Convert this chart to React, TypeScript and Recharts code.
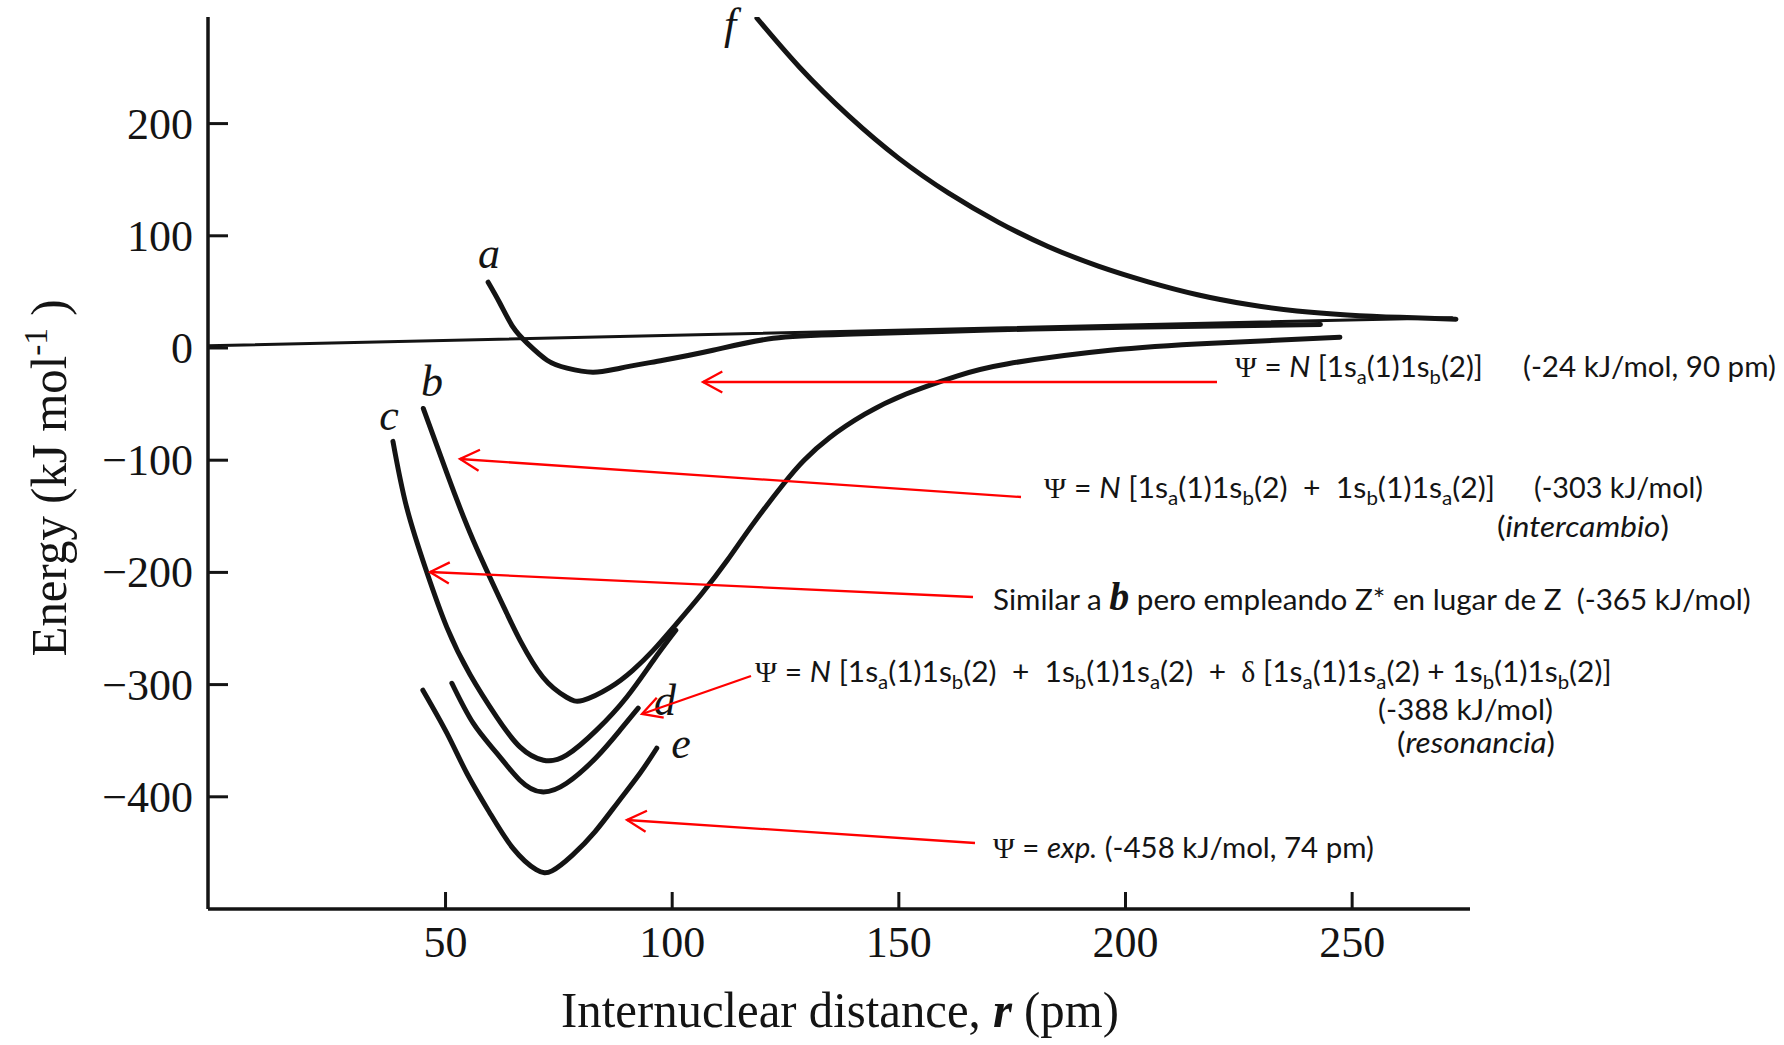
import React, { useLayoutEffect, useRef, useState } from "react";
import { LineChart, Line, XAxis, YAxis } from "recharts";

const INK = "#141414";
const RED = "#ff0000";
const SERIF = "'Liberation Serif', 'DejaVu Serif', serif";
const SANS = "Lato, 'Open Sans', 'Noto Sans', sans-serif";

const R_TICKS = [50, 100, 150, 200, 250];
const E_TICKS = [-400, -300, -200, -100, 0, 100, 200];

// [r (pm), E (kJ/mol)]
const baseline: [number, number][] = [[-2.4, 2], [272, 27]];
const curveA: [number, number][] = [
  [59.4, 58.6], [62.0, 39.9], [64.9, 18.5], [68.0, 4.3], [72.4, -10.9], [76.8, -18.0],
  [82.5, -21.6], [88.5, -18.0], [98.0, -10.9], [109.0, -2.0], [122.3, 8.7], [140, 12.5],
  [170, 16], [200, 18.5], [243, 21],
];
const curveB: [number, number][] = [
  [45.1, -53.9], [50.3, -111.6], [56.1, -171.3], [63.5, -236.4], [66.5, -261], [71.5, -293.5],
  [76.7, -311.3], [80.3, -314], [86.3, -302.5], [91.3, -287.3], [95.8, -269.5], [100.9, -246],
  [106.6, -218.6], [112.2, -189], [117.8, -157], [124.6, -121], [129.1, -100],
  [134.7, -80], [142.5, -59], [151.6, -41], [162.8, -25], [174.1, -14],
  [196.6, -2.0], [219.1, 4.3], [247.3, 9.6],
];
const curveC: [number, number][] = [
  [38.4, -83.2], [41.4, -141.6], [45.8, -199], [50.3, -249], [55.4, -291], [61.3, -329],
  [66.4, -355.5], [71.6, -367.4], [76.7, -362.9], [83.3, -340.6], [90.0, -311], [95.8, -278.7],
  [100.8, -251.6],
];
const curveD: [number, number][] = [
  [51.4, -298.8], [56.1, -334.4], [61.3, -361.1], [66.4, -385.2], [71.2, -395.6],
  [76.7, -387.9], [83.3, -364.7], [88.5, -340.6], [92.5, -321],
];
const curveE: [number, number][] = [
  [45.0, -305], [50.3, -343.3], [54.7, -379], [59.8, -414.6], [64.9, -446], [70.0, -465],
  [73.5, -466], [78.0, -452], [83.0, -431], [88.0, -405], [92.9, -379], [96.6, -356.7],
];
const curveF: [number, number][] = [
  [118.7, 293.9], [128.1, 250.2], [139.0, 206.6], [150.0, 169], [161.0, 138.0],
  [172.0, 112], [182.9, 90.5], [194.0, 73], [205.0, 59], [215.9, 47.5], [226.8, 39],
  [237.8, 33], [248.9, 29.5], [260.6, 27.3], [272.9, 25.7],
];

const pts = (a: [number, number][]) => a.map(([r, E]) => ({ r, E }));

const fmt = (v: number) => (v < 0 ? "\u2212" + Math.abs(v) : String(v));

type Part = string | [string, string];

function renderParts(parts: Part[], fs: number) {
  let shifted = 0;
  return parts.map((p, i) => {
    const [txt, kind] = typeof p === "string" ? [p, ""] : p;
    let target = 0;
    if (kind === "s") target = fs * 0.25;
    if (kind === "sup") target = -fs * 0.38;
    const dy = target - shifted;
    shifted = target;
    const props: any = {};
    if (kind === "s" || kind === "sup") props.fontSize = fs * 0.68;
    if (kind === "i") props.fontStyle = "italic";
    if (kind === "g") props.fontFamily = SERIF;
    if (kind === "bb") {
      props.fontFamily = SERIF;
      props.fontWeight = "bold";
      props.fontStyle = "italic";
      props.fontSize = fs * 1.35;
    }
    if (kind === "bi") {
      props.fontWeight = "bold";
      props.fontStyle = "italic";
    }
    return (
      <tspan key={i} dy={dy || undefined} {...props}>
        {txt}
      </tspan>
    );
  });
}

// text squeezed/stretched horizontally so it spans the same width as in the scan
function FitText({ x, y, width, parts, fs, family, anchor = "start", rotate = 0 }: any) {
  const ref = useRef<SVGTextElement>(null);
  const [k, setK] = useState(1);
  useLayoutEffect(() => {
    const el = ref.current;
    if (!el) return;
    const w = el.getBBox().width;
    if (w > 0) setK(width / w);
  }, [width]);
  return (
    <text
      ref={ref}
      transform={`translate(${x} ${y}) rotate(${rotate}) scale(${k} 1)`}
      textAnchor={anchor}
      fontFamily={family}
      fontSize={fs}
      fill={INK}
      xmlSpace="preserve"
      style={{ whiteSpace: "pre" }}
    >
      {renderParts(parts, fs)}
    </text>
  );
}

function Arrow({ from, to }: { from: [number, number]; to: [number, number] }) {
  const [x1, y1] = from;
  const [x2, y2] = to;
  const ang = Math.atan2(y1 - y2, x1 - x2);
  const L = 22;
  const h = 0.5;
  const a1 = `${x2 + L * Math.cos(ang + h)},${y2 + L * Math.sin(ang + h)}`;
  const a2 = `${x2 + L * Math.cos(ang - h)},${y2 + L * Math.sin(ang - h)}`;
  return (
    <g stroke={RED} strokeWidth={2.3} fill="none">
      <line x1={x1} y1={y1} x2={x2} y2={y2} />
      <polyline points={`${a1} ${x2},${y2} ${a2}`} />
    </g>
  );
}

const YTick = (props: any) => {
  const { x, y, payload } = props;
  return (
    <g>
      <line x1={x} x2={x + 20} y1={y} y2={y} stroke={INK} strokeWidth={3} />
      <text x={x - 15} y={y + 15} textAnchor="end" fontFamily={SERIF} fontSize={44} fill={INK}>
        {fmt(payload.value)}
      </text>
    </g>
  );
};

const XTick = (props: any) => {
  const { x, y, payload } = props;
  return (
    <g>
      <line x1={x} x2={x} y1={y} y2={y - 17} stroke={INK} strokeWidth={3} />
      <text x={x} y={y + 48} textAnchor="middle" fontFamily={SERIF} fontSize={44} fill={INK}>
        {fmt(payload.value)}
      </text>
    </g>
  );
};

const curveLabel = (t: string, x: number, y: number) => (
  <text x={x} y={y} textAnchor="middle" fontFamily={SERIF} fontStyle="italic" fontSize={44} fill={INK}>
    {t}
  </text>
);

const a = ["a", "s"] as [string, string];
const b = ["b", "s"] as [string, string];
const psi = ["\u03A8", "g"] as [string, string];

export default function App() {
  const lineProps = {
    dataKey: "E",
    type: "natural" as const,
    stroke: INK,
    strokeWidth: 5,
    dot: false,
    activeDot: false,
    isAnimationActive: false,
    strokeLinecap: "round" as const,
  };

  return (
    <div style={{ position: "relative", width: 1784, height: 1045, background: "#fff" }}>
      <style>{"body{margin:0}"}</style>
      <LineChart width={1784} height={1045} margin={{ top: 17, right: 314, bottom: 0, left: 0 }}>
        <XAxis
          type="number"
          dataKey="r"
          domain={[-2.4, 276]}
          ticks={R_TICKS}
          interval={0}
          allowDataOverflow
          height={136}
          tickSize={0}
          tickMargin={0}
          tickLine={false}
          tick={XTick}
          axisLine={{ stroke: INK, strokeWidth: 3.5 }}
        />
        <YAxis
          type="number"
          dataKey="E"
          domain={[-500, 295]}
          ticks={E_TICKS}
          interval={0}
          allowDataOverflow
          width={208}
          tickSize={0}
          tickMargin={0}
          tickLine={false}
          tick={YTick}
          axisLine={{ stroke: INK, strokeWidth: 3.5 }}
        />
        <Line {...lineProps} data={pts(baseline)} type="linear" strokeWidth={3} />
        <Line {...lineProps} data={pts(curveA)} />
        <Line {...lineProps} data={pts(curveB)} />
        <Line {...lineProps} data={pts(curveC)} />
        <Line {...lineProps} data={pts(curveD)} />
        <Line {...lineProps} data={pts(curveE)} />
        <Line {...lineProps} data={pts(curveF)} />
      </LineChart>

      <svg
        width={1784}
        height={1045}
        style={{ position: "absolute", left: 0, top: 0, pointerEvents: "none" }}
      >
        {curveLabel("f", 730, 39)}
        {curveLabel("a", 489, 268)}
        {curveLabel("b", 432, 396)}
        {curveLabel("c", 389, 430)}
        {curveLabel("d", 665, 715)}
        {curveLabel("e", 681, 758)}

        <FitText
          x={66}
          y={478}
          rotate={-90}
          anchor="middle"
          width={357}
          fs={50}
          family={SERIF}
          parts={["Energy (kJ mol", ["-1", "sup"], " )"]}
        />
        <FitText
          x={840}
          y={1027}
          anchor="middle"
          width={558}
          fs={50}
          family={SERIF}
          parts={["Internuclear distance, ", ["r", "bi"], " (pm)"]}
        />

        <Arrow from={[1217, 382]} to={[703, 382]} />
        <Arrow from={[1021, 497]} to={[460, 459]} />
        <Arrow from={[973, 597]} to={[430, 572]} />
        <Arrow from={[751, 676]} to={[642, 714]} />
        <Arrow from={[975, 843]} to={[627, 820]} />

        <FitText x={1235} y={377} width={248} fs={29} family={SANS}
          parts={[psi, " = ", ["N", "i"], " [1s", a, "(1)1s", b, "(2)]"]} />
        <FitText x={1523} y={377} width={253} fs={29} family={SANS}
          parts={["(-24 kJ/mol, 90 pm)"]} />

        <FitText x={1044} y={498} width={451} fs={29} family={SANS}
          parts={[psi, " = ", ["N", "i"], " [1s", a, "(1)1s", b, "(2)  +  1s", b, "(1)1s", a, "(2)]"]} />
        <FitText x={1534} y={498} width={169} fs={29} family={SANS} parts={["(-303 kJ/mol)"]} />
        <FitText x={1497} y={537} width={172} fs={29} family={SANS}
          parts={["(", ["intercambio", "i"], ")"]} />

        <FitText x={993} y={610} width={758} fs={29} family={SANS}
          parts={["Similar a ", ["b", "bb"], " pero empleando Z* en lugar de Z  (-365 kJ/mol)"]} />

        <FitText x={755} y={682} width={857} fs={29} family={SANS}
          parts={[psi, " = ", ["N", "i"], " [1s", a, "(1)1s", b, "(2)  +  1s", b, "(1)1s", a,
            "(2)  +  ", ["\u03B4", "g"], " [1s", a, "(1)1s", a, "(2) + 1s", b, "(1)1s", b, "(2)]"]} />
        <FitText x={1378} y={720} width={175} fs={29} family={SANS} parts={["(-388 kJ/mol)"]} />
        <FitText x={1397} y={753} width={158} fs={29} family={SANS}
          parts={["(", ["resonancia", "i"], ")"]} />

        <FitText x={993} y={858} width={381} fs={29} family={SANS}
          parts={[psi, " = ", ["exp.", "i"], " (-458 kJ/mol, 74 pm)"]} />
      </svg>
    </div>
  );
}
